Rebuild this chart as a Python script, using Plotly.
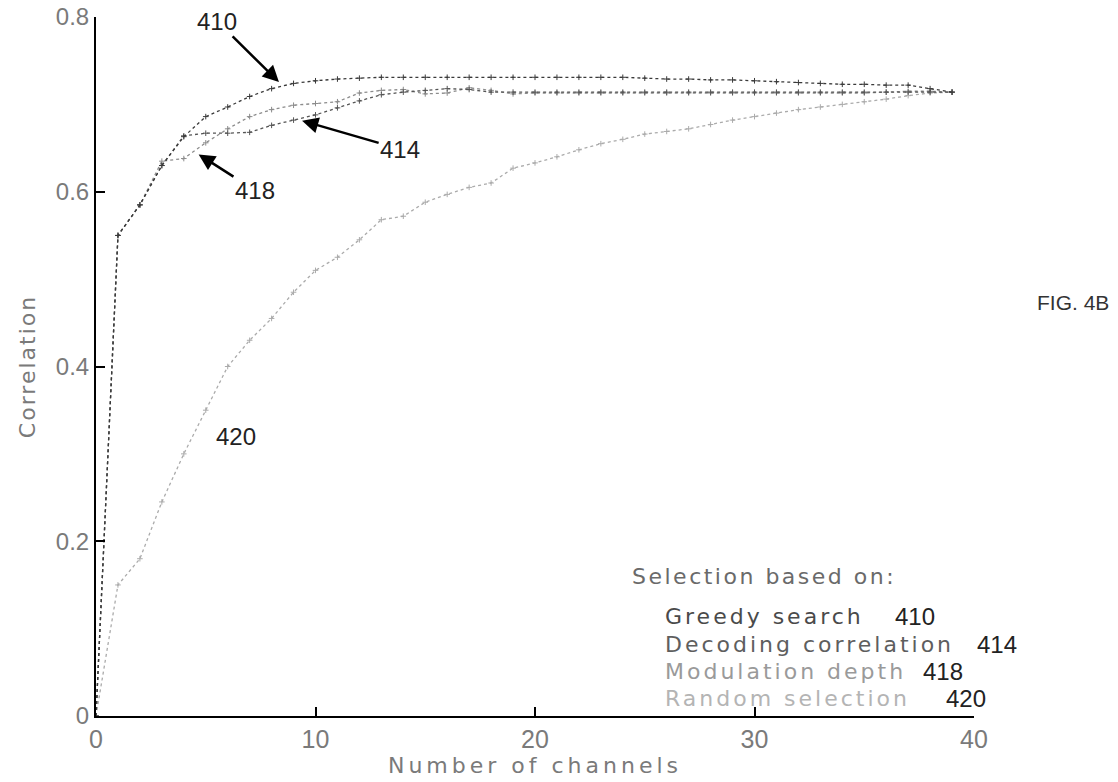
import plotly.graph_objects as go

channels = list(range(40))

greedy_410 = [0.0, 0.55, 0.585, 0.63, 0.663, 0.686, 0.697, 0.709, 0.718, 0.724,
              0.727, 0.729, 0.730, 0.731, 0.731, 0.731, 0.731, 0.731, 0.731, 0.731,
              0.731, 0.731, 0.731, 0.731, 0.731, 0.730, 0.729, 0.729, 0.728, 0.728,
              0.727, 0.726, 0.725, 0.724, 0.723, 0.723, 0.722, 0.722, 0.718, 0.714]

decoding_414 = [0.0, 0.55, 0.585, 0.63, 0.664, 0.667, 0.667, 0.668, 0.676, 0.682,
                0.688, 0.696, 0.704, 0.711, 0.714, 0.716, 0.718, 0.717, 0.714, 0.714,
                0.714, 0.714, 0.714, 0.714, 0.714, 0.714, 0.714, 0.714, 0.714, 0.714,
                0.714, 0.714, 0.714, 0.714, 0.714, 0.714, 0.714, 0.714, 0.714, 0.714]

modulation_418 = [0.0, 0.55, 0.585, 0.635, 0.638, 0.656, 0.672, 0.686, 0.694, 0.699,
                  0.701, 0.703, 0.713, 0.716, 0.717, 0.712, 0.713, 0.719, 0.716, 0.712,
                  0.713, 0.713, 0.713, 0.713, 0.713, 0.713, 0.713, 0.713, 0.713, 0.713,
                  0.713, 0.713, 0.713, 0.713, 0.713, 0.713, 0.714, 0.715, 0.715, 0.714]

random_420 = [0.0, 0.15, 0.18, 0.245, 0.30, 0.35, 0.40, 0.43, 0.455, 0.485,
              0.51, 0.525, 0.545, 0.568, 0.572, 0.588, 0.597, 0.605, 0.61, 0.627,
              0.633, 0.64, 0.648, 0.655, 0.66, 0.666, 0.669, 0.672, 0.677, 0.682,
              0.686, 0.69, 0.694, 0.697, 0.70, 0.703, 0.706, 0.71, 0.713, 0.714]

series_names = ["Greedy search", "Decoding correlation", "Modulation depth", "Random selection"]
series_refs = ["410", "414", "418", "420"]
series_colors = ["#3a3a3a", "#555555", "#8c8c8c", "#ababab"]
text_colors = ["#4a4a4a", "#5e5e5e", "#9a9a9a", "#b4b4b4"]
series_values = [greedy_410, decoding_414, modulation_418, random_420]

x_ticks = [0, 10, 20, 30, 40]
y_ticks = [0, 0.2, 0.4, 0.6, 0.8]
y_tick_text = ["0", "0.2", "0.4", "0.6", "0.8"]

fig = go.Figure()
for vals, name, col in zip(series_values[::-1], series_names[::-1], series_colors[::-1]):
    fig.add_trace(go.Scatter(
        x=channels, y=vals, name=name, mode="lines+markers",
        line=dict(color=col, width=1.3, dash="dot"),
        marker=dict(color=col, size=4, symbol="cross-thin", line=dict(color=col, width=1)),
        showlegend=False,
    ))

word_font = "DejaVu Sans, Verdana, sans-serif"
num_font = "Liberation Sans, Arial, sans-serif"
gray_txt = "#7a7a7a"


def spaced(text, px):
    return f"<span style='letter-spacing:{px}px'>{text}</span>"


fig.update_layout(
    width=1118, height=782,
    margin=dict(l=96, r=144, t=17, b=66),
    paper_bgcolor="white", plot_bgcolor="white",
    font=dict(family=num_font, size=22, color=gray_txt),
    xaxis=dict(range=[0, 40], tickvals=x_ticks, ticks="inside", ticklen=9, tickwidth=2,
               tickcolor="black", showline=True, linecolor="black", linewidth=2,
               showgrid=False, zeroline=False, automargin=False,
               tickfont=dict(family=num_font, size=25, color=gray_txt),
               title=dict(text=spaced("Number of channels", 4),
                          font=dict(family=word_font, size=22, color=gray_txt), standoff=6)),
    yaxis=dict(range=[0, 0.8], tickvals=y_ticks, ticktext=y_tick_text, ticks="inside",
               ticklen=9, tickwidth=2, tickcolor="black", showline=True, linecolor="black",
               linewidth=2, showgrid=False, zeroline=False, automargin=False,
               tickfont=dict(family=num_font, size=24, color=gray_txt),
               title=dict(text=spaced("Correlation", 2),
                          font=dict(family=word_font, size=22, color=gray_txt), standoff=14)),
)

ann = []
ann.append(dict(x=8.4, y=0.724, xref="x", yref="y", text="410", showarrow=True,
                ax=-63, ay=-62, arrowhead=2, arrowsize=1.3, arrowwidth=2.5, arrowcolor="black",
                font=dict(family=num_font, size=24, color="#222222"), standoff=2))
ann.append(dict(x=9.3, y=0.682, xref="x", yref="y", text="414", showarrow=True,
                ax=100, ay=29, arrowhead=2, arrowsize=1.3, arrowwidth=2.5, arrowcolor="black",
                font=dict(family=num_font, size=24, color="#222222"), standoff=2))
ann.append(dict(x=4.6, y=0.644, xref="x", yref="y", text="418", showarrow=True,
                ax=58, ay=37, arrowhead=2, arrowsize=1.3, arrowwidth=2.5, arrowcolor="black",
                font=dict(family=num_font, size=24, color="#222222"), standoff=2))
ann.append(dict(x=6.4, y=0.32, xref="x", yref="y", text="420", showarrow=False,
                font=dict(family=num_font, size=24, color="#222222")))

ann.append(dict(x=(630 - 96) / 878, y=(716 - 576) / 699, xref="paper", yref="paper",
                xanchor="left", yanchor="middle", text=spaced("Selection based on:", 2.5),
                showarrow=False, font=dict(family=word_font, size=22, color="#6a6a6a")))
legend_y = [616, 644, 671, 698]
num_left = [893, 975, 921, 944]
for name, ref, col, py, nx in zip(series_names, series_refs, text_colors, legend_y, num_left):
    ann.append(dict(x=(663 - 96) / 878, y=(716 - py) / 699, xref="paper", yref="paper",
                    xanchor="left", yanchor="middle", text=spaced(name, 3), showarrow=False,
                    font=dict(family=word_font, size=22, color=col)))
    ann.append(dict(x=(nx - 96) / 878, y=(716 - py) / 699, xref="paper", yref="paper",
                    xanchor="left", yanchor="middle", text=ref, showarrow=False,
                    font=dict(family=num_font, size=24, color="#222222")))

ann.append(dict(x=(1073 - 96) / 878, y=(716 - 302) / 699, xref="paper", yref="paper",
                text="FIG. 4B", showarrow=False, xanchor="center",
                font=dict(family=num_font, size=21, color="#333333")))

fig.update_layout(annotations=ann)
fig.write_html("out.html")
